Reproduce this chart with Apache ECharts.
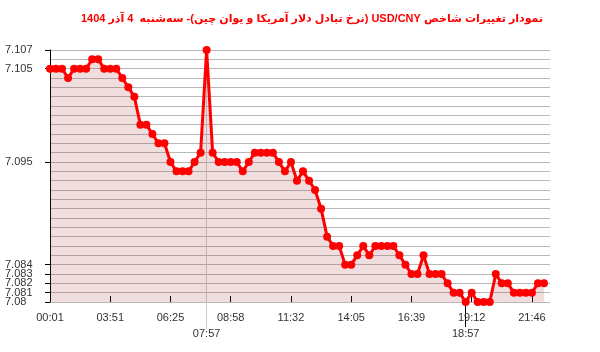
<!DOCTYPE html>
<html>
<head>
<meta charset="utf-8">
<script src="https://cdn.jsdelivr.net/npm/echarts@6/dist/echarts.min.js"></script>
<style>html,body{margin:0;padding:0;background:#fff}#c{width:600px;height:352px}</style>
</head>
<body>
<div id="c"></div>
<script>
const titleText = 'نمودار تغییرات شاخص USD/CNY (نرخ تبادل دلار آمریکا و یوان چین)- سه‌شنبه  4 آذر 1404';

const times = [
  '00:01','00:24','00:47','01:10','01:33','01:56','02:19','02:42','03:05','03:28',
  '03:51','04:06','04:22','04:37','04:53','05:08','05:23','05:39','05:54','06:10',
  '06:25','06:40','06:56','07:11','07:26','07:42','07:57','08:12','08:27','08:43',
  '08:58','09:13','09:29','09:44','10:00','10:15','10:30','10:46','11:01','11:17',
  '11:32','11:47','12:03','12:18','12:33','12:49','13:04','13:19','13:35','13:50',
  '14:05','14:20','14:36','14:51','15:07','15:22','15:37','15:53','16:08','16:24',
  '16:39','16:54','17:10','17:25','17:40','17:56','18:11','18:26','18:42','18:57',
  '19:12','19:27','19:43','19:58','20:14','20:29','20:44','21:00','21:15','21:31',
  '21:46','22:01','22:17'
];

const rates = [
  7.105,7.105,7.105,7.104,7.105,7.105,7.105,7.106,7.106,7.105,
  7.105,7.105,7.104,7.103,7.102,7.099,7.099,7.098,7.097,7.097,
  7.095,7.094,7.094,7.094,7.095,7.096,7.107,7.096,7.095,7.095,
  7.095,7.095,7.094,7.095,7.096,7.096,7.096,7.096,7.095,7.094,
  7.095,7.093,7.094,7.093,7.092,7.090,7.087,7.086,7.086,7.084,
  7.084,7.085,7.086,7.085,7.086,7.086,7.086,7.086,7.085,7.084,
  7.083,7.083,7.085,7.083,7.083,7.083,7.082,7.081,7.081,7.080,
  7.081,7.080,7.080,7.080,7.083,7.082,7.082,7.081,7.081,7.081,
  7.081,7.082,7.082
];

// y tick labels, split into two alternating sets so neighbours never collide
const yLabelsA = [7.08, 7.082, 7.084, 7.105];
const yLabelsB = [7.081, 7.083, 7.095, 7.107];
const yMin = 7.080, yMax = 7.107, yStep = 0.001;
const xMainLabels = ['00:01','03:51','06:25','08:58','11:32','14:05','16:39','19:12','21:46'];
const xMaxLabel = '07:57';
const xMinLabel = '18:57';

const chart = echarts.init(document.getElementById('c'));
const labelFont = {fontFamily: '"Liberation Sans", Arial, sans-serif', fontSize: 11, color: '#333'};
const isIn = (list) => (i, v) => list.includes(v);

function labelAxis(values) {
  return {
    type: 'value', min: yMin, max: yMax, position: 'left', offset: 0,
    axisLine: {show: false},
    axisTick: {show: true, length: 5, customValues: values, lineStyle: {color: '#000'}},
    axisLabel: Object.assign({
      customValues: values, align: 'left', margin: 45, padding: [0, 0, 6, 0],
      showMinLabel: true, showMaxLabel: true, hideOverlap: false,
      formatter: (v) => String(+(+v).toFixed(3))
    }, labelFont),
    splitLine: {show: false}
  };
}

chart.setOption({
  animation: false,
  backgroundColor: '#fff',
  title: {
    text: '\u202B' + titleText + '\u202C',
    left: 76,
    top: 8,
    textStyle: {fontFamily: '"Liberation Sans", "DejaVu Sans", sans-serif', fontSize: 11, fontWeight: 'bold', color: '#f00'}
  },
  grid: {left: 50, right: 50, top: 50, bottom: 50, containLabel: false},
  xAxis: [
    {
      type: 'category', data: times, boundaryGap: false, max: times.length,
      position: 'bottom',
      axisLine: {show: false},
      axisTick: {show: true, inside: true, length: 6, interval: isIn(xMainLabels), lineStyle: {color: '#000'}},
      axisLabel: Object.assign({interval: isIn(xMainLabels), margin: 10}, labelFont),
      splitLine: {show: false}
    },
    {
      type: 'category', data: times, boundaryGap: false, max: times.length,
      position: 'bottom',
      axisLine: {show: false},
      axisTick: {show: true, length: 27, interval: isIn([xMaxLabel]), lineStyle: {color: '#ccc'}},
      axisLabel: Object.assign({interval: isIn([xMaxLabel]), margin: 26}, labelFont),
      splitLine: {show: true, interval: isIn([xMaxLabel]), lineStyle: {color: '#ccc', width: 1}}
    },
    {
      type: 'category', data: times, boundaryGap: false, max: times.length,
      position: 'bottom',
      axisLine: {show: false},
      axisTick: {show: true, length: 25, interval: isIn([xMinLabel]), lineStyle: {color: '#000'}},
      axisLabel: Object.assign({interval: isIn([xMinLabel]), margin: 26}, labelFont),
      splitLine: {show: false}
    }
  ],
  yAxis: [
    {
      type: 'value', min: yMin, max: yMax, interval: yStep, position: 'left',
      axisLine: {show: true, lineStyle: {color: '#000', width: 1}},
      axisTick: {show: false},
      axisLabel: {show: false},
      splitLine: {show: true, lineStyle: {color: '#b8b8b8', width: 1}}
    },
    labelAxis(yLabelsA),
    labelAxis(yLabelsB)
  ],
  series: [{
    type: 'line',
    data: rates,
    xAxisIndex: 0,
    yAxisIndex: 0,
    symbol: 'circle',
    symbolSize: 8,
    showSymbol: true,
    showAllSymbol: true,
    lineStyle: {color: '#f00', width: 3},
    itemStyle: {color: '#f00'},
    areaStyle: {color: 'rgba(160,30,30,0.22)', origin: 'start'},
    z: 3
  }]
});
</script>
</body>
</html>
